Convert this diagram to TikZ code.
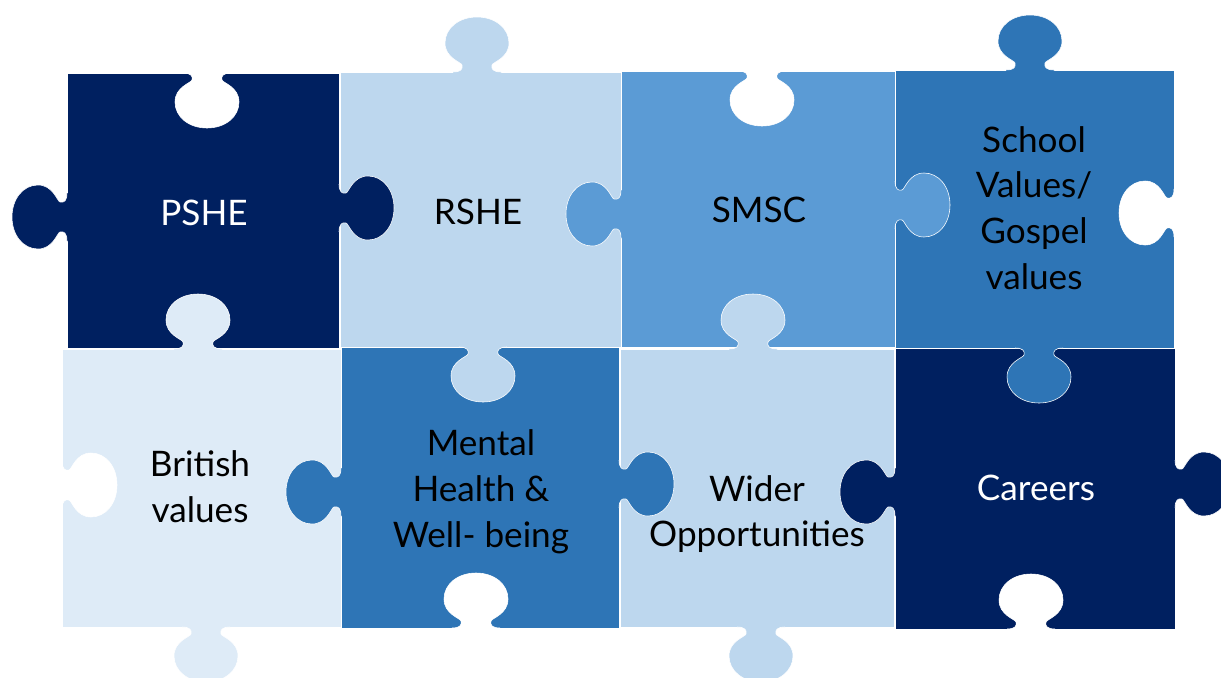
\documentclass[tikz,border=0pt]{standalone}
\usepackage{fontspec}
\setmainfont{Lato}
\usepackage{xcolor}
\usetikzlibrary{positioning}

\definecolor{navy}{HTML}{002060}
\definecolor{paleblue}{HTML}{BDD7EE}
\definecolor{midblue}{HTML}{5B9BD5}
\definecolor{deepblue}{HTML}{2E75B6}
\definecolor{iceblue}{HTML}{DEEBF7}

% outline of one knob, base on the edge, bulb towards +y
\newcommand{\knobcurve}{(-24,0) .. controls (-16,0) and (-14,3) .. (-15,7)
  .. controls (-16,10) and (-32,14) .. (-32,29)
  .. controls (-32,44) and (-18,55) .. (0,55)
  .. controls (18,55) and (32,44) .. (32,29)
  .. controls (32,14) and (16,10) .. (15,7)
  .. controls (14,3) and (16,0) .. (24,0)}

\tikzset{
  piece/.style={draw=white, line width=0.5pt},
  piecetext/.style={align=center, font=\fontsize{25}{32.6}\selectfont},
  pics/knob/.style={code={
    \fill[#1] (-24,-3) -- \knobcurve -- (24,-3) -- cycle;
    \draw[white, line width=0.4pt] \knobcurve;
  }}
}

\begin{document}
\begin{tikzpicture}[x=0.025cm, y=-0.025cm]
    \useasboundingbox (0,0) rectangle (1221,677);
    \clip (0,0) rectangle (1221,677);

    % Pieces
    \foreach \xa/\ya/\xb/\yb/\col in {67/73/339/348/navy, 340/72/621/347/paleblue,
        621/71/895/347/midblue, 895/70/1174/348/deepblue,
        62/349/341/627/iceblue, 341/347/619/628/deepblue,
        620/349/894/627/paleblue, 895/348/1175/629/navy} {
        \fill[\col, piece] (\xa,\ya) rectangle (\xb,\yb);
    }

    % Knobs (0 = down, 180 = up, 90 = right, -90 = left)
    \foreach \x/\y/\r/\col in {207/73/0/white, 67/217/-90/navy, 339/208/90/navy,
        198/349/180/iceblue, 477/72/180/paleblue, 621/214/-90/midblue,
        483/347/0/paleblue, 762/71/0/white, 753/349/180/paleblue,
        895/205/90/midblue, 1030/70/180/deepblue, 1174/213/-90/white,
        1039/348/0/deepblue, 62/485/90/white, 341/492/-90/deepblue,
        206/627/0/iceblue, 619/484/90/deepblue, 476/628/180/white,
        761/627/0/paleblue, 895/492/-90/navy, 1175/484/90/navy,
        1031/629/180/white} {
        \pic[rotate=\r] at (\x,\y) {knob=\col};
    }

    % Labels
    \node[piecetext, white] (pshe) at (204,213) {PSHE};
    \node[piecetext] (rshe) at (478,212) {RSHE};
    \node[piecetext] (smsc) at (759,210) {SMSC};
    \node[piecetext] (school) at (1034,208) {School\\Values/\\Gospel\\values};
    \node[piecetext] (british) at (200,487) {British\\values};
    \node[piecetext] (mental) at (481,492) {Mental\\Health \&\\Well- being};
    \node[piecetext] (wider) at (757,514) {Wider\\Opportunities};
    \node[piecetext, white] (careers) at (1036,488) {Careers};
\end{tikzpicture}
\end{document}
